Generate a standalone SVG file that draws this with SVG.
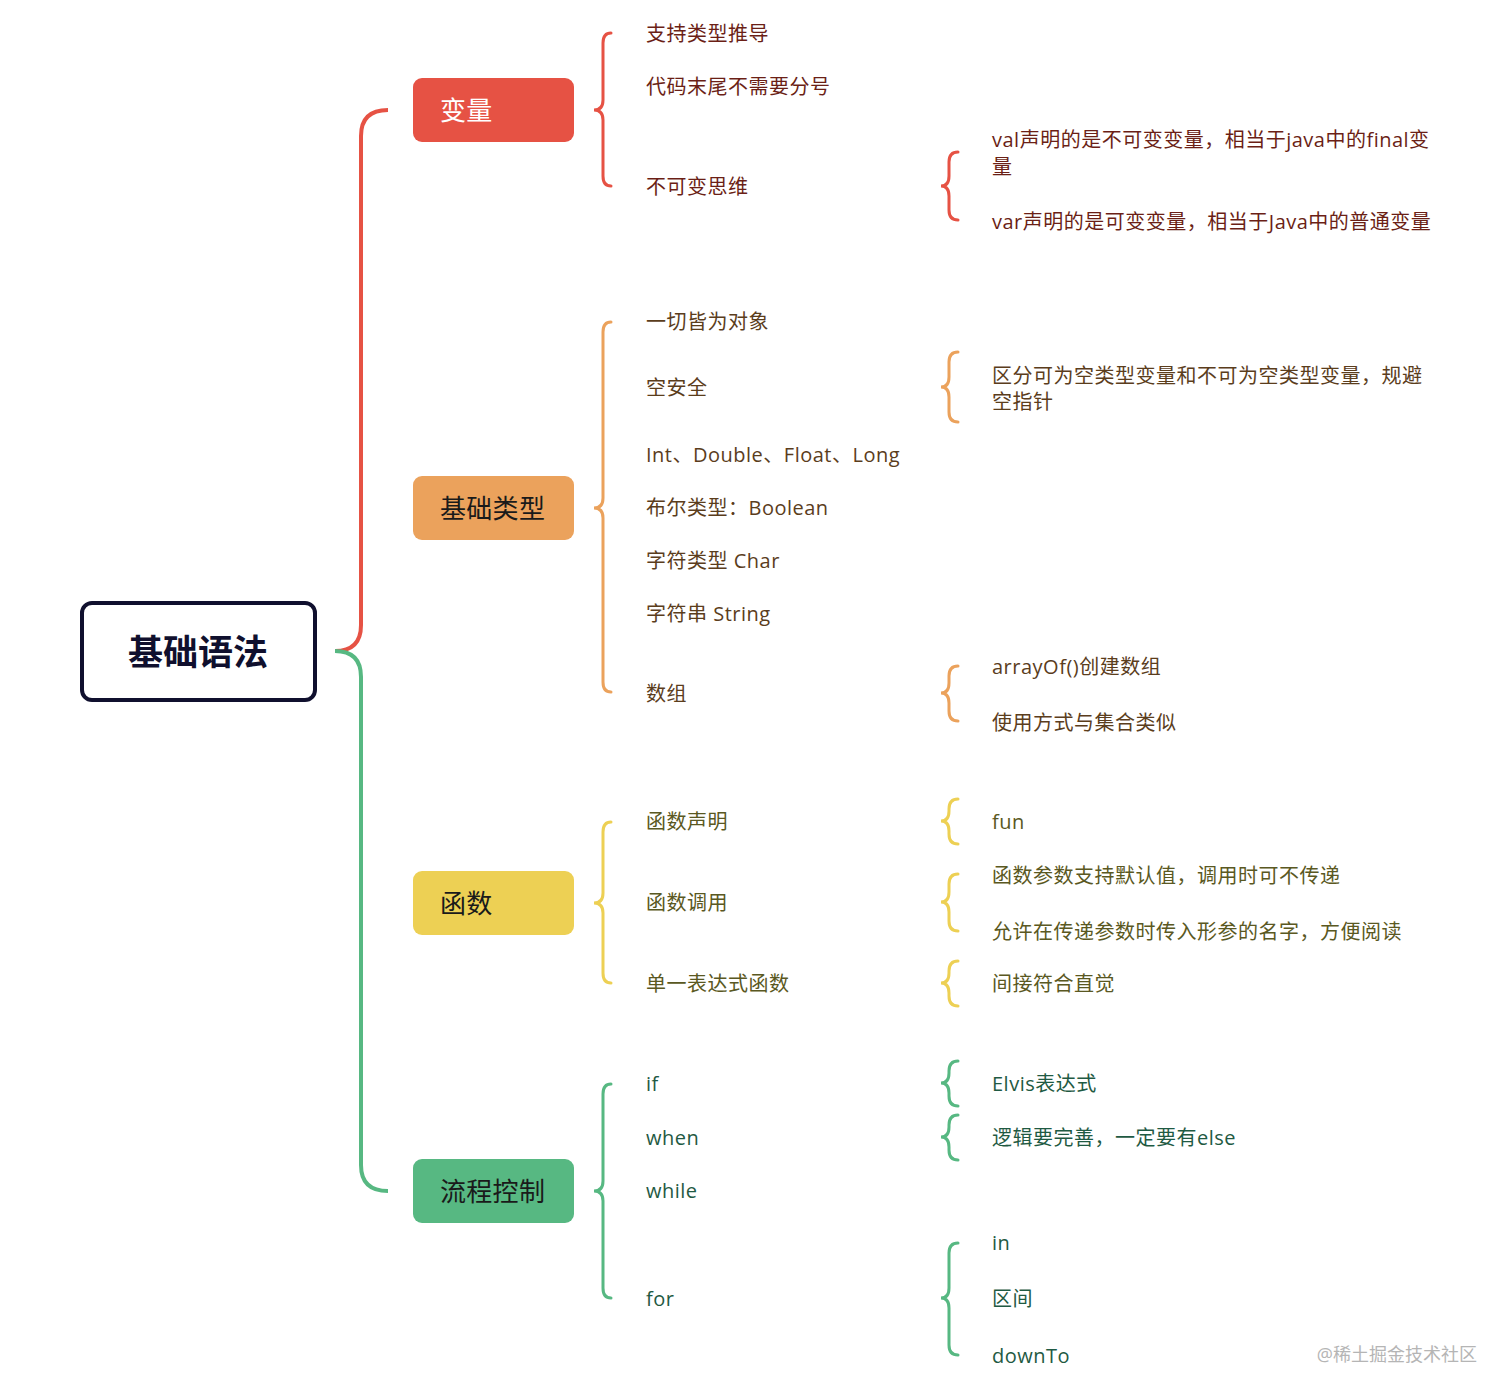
<svg xmlns="http://www.w3.org/2000/svg" width="1512" height="1399" viewBox="0 0 1512 1399">
<style>
text{font-family:"Open Sans","Noto Sans CJK SC",sans-serif;dominant-baseline:central}
.t2,.t3{font-size:20px;letter-spacing:0.5px}
.red{fill:#6b1f16}.brn{fill:#5b3d1c}.olv{fill:#5a5822}.grn{fill:#1f5a43}
.node text{font-size:26px;letter-spacing:0.3px}
.br{fill:none;stroke-width:3;stroke-linecap:round}
.bred{stroke:#e65244}.bora{stroke:#eba25c}.byel{stroke:#edd054}.bgrn{stroke:#57b882}
</style>
<rect width="1512" height="1399" fill="#ffffff"/>
<g id="connectors">
<path d="M335,651 Q361,651 361,625 L361,136 Q361,110 388,110" fill="none" stroke="#e65244" stroke-width="4"/>
<path d="M335,651 Q361,651 361,677 L361,1165 Q361,1191 388,1191" fill="none" stroke="#57b882" stroke-width="4"/>
<path class="br bred" d="M611,33 Q603,33 603,43 L603,100 Q603,110 594,110 Q603,110 603,120 L603,176 Q603,186 611,186"/>
<path class="br bora" d="M611,322 Q603,322 603,332 L603,498 Q603,508 594,508 Q603,508 603,518 L603,682 Q603,692 611,692"/>
<path class="br byel" d="M611,822 Q603,822 603,832 L603,893 Q603,903 594,903 Q603,903 603,913 L603,973 Q603,983 611,983"/>
<path class="br bgrn" d="M611,1084 Q603,1084 603,1094 L603,1181 Q603,1191 594,1191 Q603,1191 603,1201 L603,1288 Q603,1298 611,1298"/>
<path class="br bred" d="M958,152 Q949,152 949,162 L949,176 Q949,186 941,186 Q949,186 949,196 L949,210 Q949,220 958,220"/>
<path class="br bora" d="M958,352 Q949,352 949,362 L949,377 Q949,387 941,387 Q949,387 949,397 L949,412 Q949,422 958,422"/>
<path class="br bora" d="M958,666 Q949,666 949,676 L949,683 Q949,693 941,693 Q949,693 949,703 L949,711 Q949,721 958,721"/>
<path class="br byel" d="M958,799 Q949,799 949,809 L949,811 Q949,821 941,821 Q949,821 949,831 L949,834 Q949,844 958,844"/>
<path class="br byel" d="M958,874 Q949,874 949,884 L949,892 Q949,902 941,902 Q949,902 949,912 L949,921 Q949,931 958,931"/>
<path class="br byel" d="M958,961 Q949,961 949,971 L949,973 Q949,983 941,983 Q949,983 949,993 L949,996 Q949,1006 958,1006"/>
<path class="br bgrn" d="M958,1061 Q949,1061 949,1071 L949,1073 Q949,1083 941,1083 Q949,1083 949,1093 L949,1096 Q949,1106 958,1106"/>
<path class="br bgrn" d="M958,1115 Q949,1115 949,1125 L949,1127 Q949,1137 941,1137 Q949,1137 949,1147 L949,1150 Q949,1160 958,1160"/>
<path class="br bgrn" d="M958,1243 Q949,1243 949,1253 L949,1288 Q949,1298 941,1298 Q949,1298 949,1308 L949,1345 Q949,1355 958,1355"/>
</g>
<g id="root">
<rect x="82" y="603" width="233" height="97" rx="10" fill="#ffffff" stroke="#10102e" stroke-width="4"/>
<text x="198" y="651" text-anchor="middle" font-size="35" font-weight="bold" fill="#10102e">基础语法</text>
</g>
<g id="n-bianliang" class="node">
<rect x="413" y="78" width="161" height="64" rx="9" fill="#e65244"/>
<text x="440" y="110" fill="#ffffff">变量</text>
</g>
<g id="n-jichuleixing" class="node">
<rect x="413" y="476" width="161" height="64" rx="9" fill="#eba25c"/>
<text x="440" y="508" fill="#1a1a1a">基础类型</text>
</g>
<g id="n-hanshu" class="node">
<rect x="413" y="871" width="161" height="64" rx="9" fill="#edd054"/>
<text x="440" y="903" fill="#1a1a1a">函数</text>
</g>
<g id="n-liucheng" class="node">
<rect x="413" y="1159" width="161" height="64" rx="9" fill="#57b882"/>
<text x="440" y="1191" fill="#1a1a1a">流程控制</text>
</g>
<g id="l2-bianliang" class="t2 red">
<text x="646" y="33">支持类型推导</text>
<text x="646" y="86">代码末尾不需要分号</text>
<text x="646" y="186">不可变思维</text>
</g>
<g id="l3-bianliang" class="t3 red">
<text x="992" y="139">val声明的是不可变变量，相当于java中的final变</text>
<text x="992" y="166">量</text>
<text x="992" y="221">var声明的是可变变量，相当于Java中的普通变量</text>
</g>
<g id="l2-jichu" class="t2 brn">
<text x="646" y="321">一切皆为对象</text>
<text x="646" y="387">空安全</text>
<text x="646" y="454">Int、Double、Float、Long</text>
<text x="646" y="507">布尔类型：Boolean</text>
<text x="646" y="560">字符类型 Char</text>
<text x="646" y="613">字符串 String</text>
<text x="646" y="693">数组</text>
</g>
<g id="l3-jichu" class="t3 brn">
<text x="992" y="375">区分可为空类型变量和不可为空类型变量，规避</text>
<text x="992" y="401">空指针</text>
<text x="992" y="666">arrayOf()创建数组</text>
<text x="992" y="722">使用方式与集合类似</text>
</g>
<g id="l2-hanshu" class="t2 olv">
<text x="646" y="821">函数声明</text>
<text x="646" y="902">函数调用</text>
<text x="646" y="983">单一表达式函数</text>
</g>
<g id="l3-hanshu" class="t3 olv">
<text x="992" y="821">fun</text>
<text x="992" y="875">函数参数支持默认值，调用时可不传递</text>
<text x="992" y="931">允许在传递参数时传入形参的名字，方便阅读</text>
<text x="992" y="983">间接符合直觉</text>
</g>
<g id="l2-liucheng" class="t2 grn">
<text x="646" y="1083">if</text>
<text x="646" y="1137">when</text>
<text x="646" y="1190">while</text>
<text x="646" y="1298">for</text>
</g>
<g id="l3-liucheng" class="t3 grn">
<text x="992" y="1083">Elvis表达式</text>
<text x="992" y="1137">逻辑要完善，一定要有else</text>
<text x="992" y="1242">in</text>
<text x="992" y="1298">区间</text>
<text x="992" y="1355">downTo</text>
</g>
<text x="1477" y="1354" text-anchor="end" font-size="18" fill="#b5b5b5">@稀土掘金技术社区</text>
</svg>
